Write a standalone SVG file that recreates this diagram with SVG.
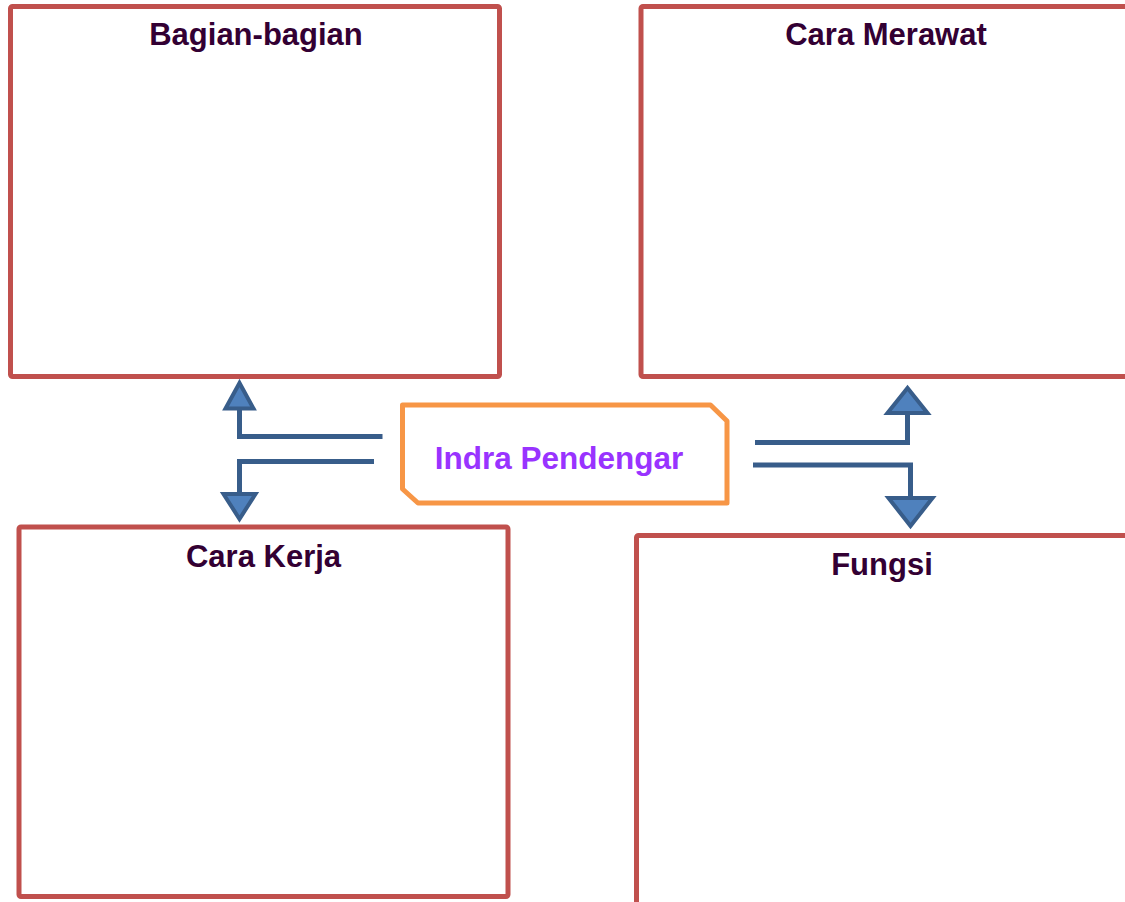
<svg xmlns="http://www.w3.org/2000/svg" width="1125" height="902" viewBox="0 0 1125 902">
<style>
.box{fill:#FFFFFF;stroke:#C0504D;stroke-width:5}
.title{font-family:"Liberation Sans",Arial,sans-serif;font-weight:bold;font-size:31px;fill:#330033;text-anchor:middle}
.center{fill:#FFFFFF;stroke:#F79646;stroke-width:5;stroke-linejoin:round}
.ctext{font-family:"Liberation Sans",Arial,sans-serif;font-weight:bold;font-size:31.5px;fill:#9933FF;text-anchor:middle}
.line{fill:none;stroke:#385D8A;stroke-width:5;stroke-linejoin:miter}
.head{fill:#4F81BD;stroke:#385D8A;stroke-width:4;stroke-linejoin:miter}
</style>
<rect width="1125" height="902" fill="#FFFFFF"/>
<g id="bagian">
<rect class="box" x="10.5" y="6.5" width="489" height="370" rx="2"/>
<text class="title" x="256" y="45">Bagian-bagian</text>
</g>
<g id="merawat">
<rect class="box" x="641" y="6.5" width="500" height="370" rx="2"/>
<text class="title" x="886" y="45">Cara Merawat</text>
</g>
<g id="kerja">
<rect class="box" x="19" y="527" width="489" height="369.5" rx="2"/>
<text class="title" x="263.5" y="567">Cara Kerja</text>
</g>
<g id="fungsi">
<rect class="box" x="636.5" y="535.5" width="500" height="400" rx="2"/>
<text class="title" x="882" y="575">Fungsi</text>
</g>
<g id="indra">
<path class="center" d="M402.5,405 L710.5,405 L727,421 L727,503 L418,503 L402.5,489 Z"/>
<text class="ctext" x="559" y="469">Indra Pendengar</text>
</g>
<g id="connectors">
<polyline class="line" points="382.5,436.5 239.5,436.5 239.5,408"/>
<polygon class="head" points="239.5,383 225.5,408.5 253.5,408.5"/>
<polyline class="line" points="374,461.5 239.5,461.5 239.5,494"/>
<polygon class="head" points="223.5,494 255.5,494 239.5,519"/>
<polyline class="line" points="755,442.5 907.5,442.5 907.5,413"/>
<polygon class="head" points="907.5,388 887.5,413 927.5,413"/>
<polyline class="line" points="753,465 910.5,465 910.5,498"/>
<polygon class="head" points="888.5,498 932.5,498 910.5,526"/>
</g>
</svg>
